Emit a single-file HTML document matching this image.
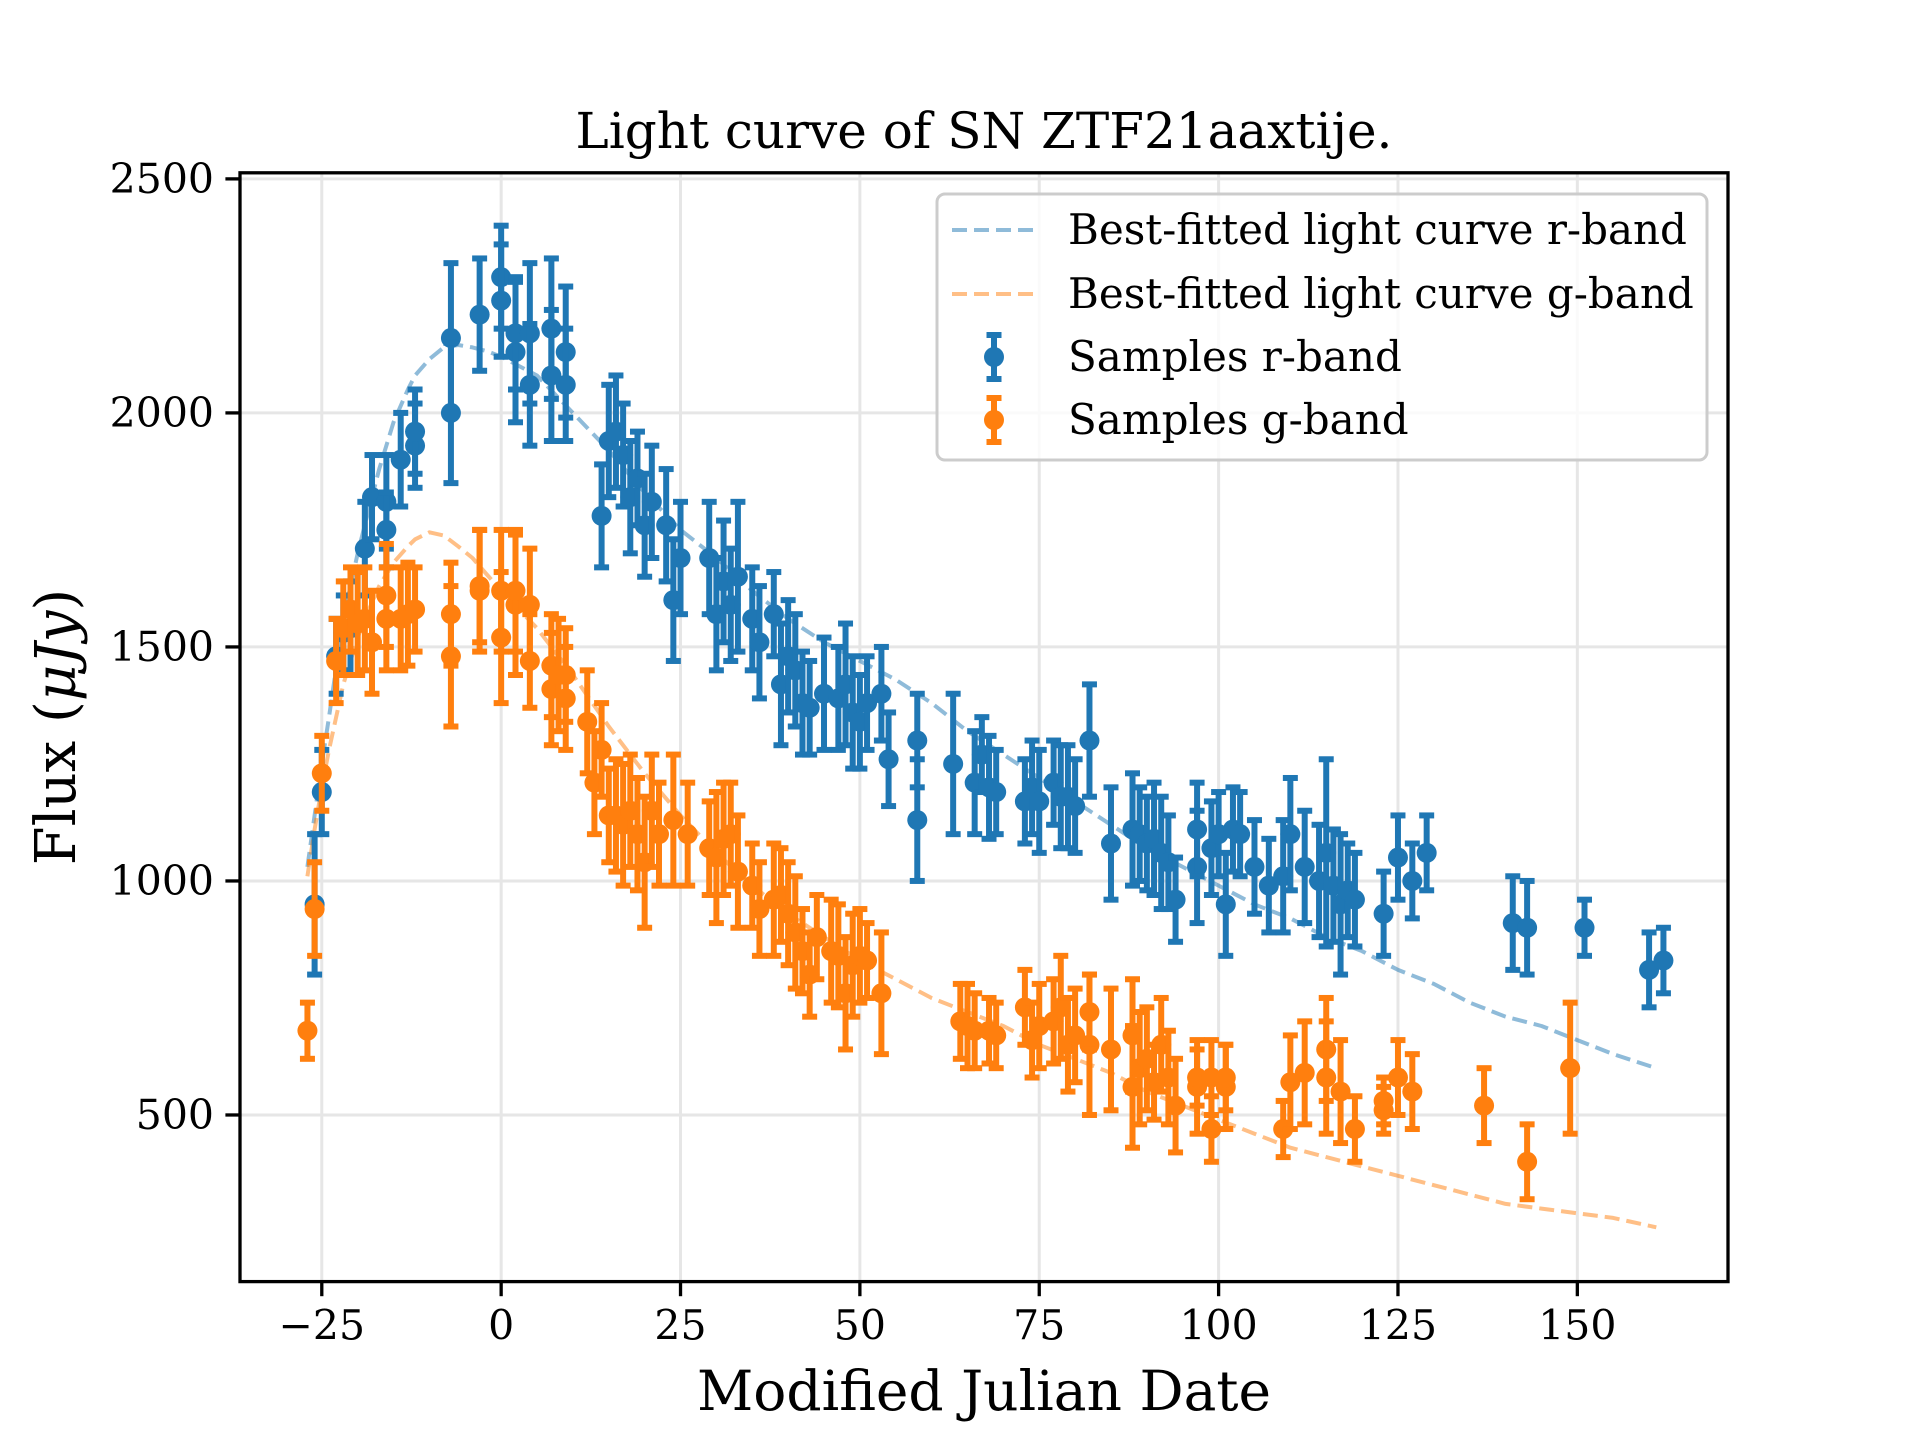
<!DOCTYPE html>
<html><head><meta charset="utf-8">
<style>
html,body{margin:0;padding:0;background:#fff;}
svg{display:block;font-family:"DejaVu Serif","Liberation Serif",serif;}
</style></head>
<body>
<svg id="chart" width="1920" height="1440" viewBox="0 0 1920 1440" xmlns="http://www.w3.org/2000/svg">
<rect width="1920" height="1440" fill="#fff"/>
<g id="grid"></g><g id="fits"></g><g id="pts"></g><g id="axes"></g><g id="legend"></g>
</svg>
<script>
const rX=[-26,-25,-23,-22,-21,-19,-18,-16,-16,-14,-12,-12,-7,-7,-3,0,0,2,2,4,4,7,7,9,9,14,15,16,17,18,19,20,21,23,24,25,29,30,31,32,33,35,36,38,39,40,41,42,43,45,47,48,49,50,51,53,54,58,58,63,66,67,68,69,73,74,75,77,78,79,80,82,85,88,89,90,91,92,93,94,97,97,99,100,101,102,103,105,107,109,110,112,114,115,116,117,118,119,123,125,127,129,141,143,151,160,162];
const rY=[950,1190,1480,1530,1540,1710,1820,1810,1750,1900,1930,1960,2160,2000,2210,2290,2240,2130,2170,2170,2060,2180,2080,2130,2060,1780,1940,1960,1910,1820,1860,1760,1810,1760,1600,1690,1690,1570,1640,1590,1650,1560,1510,1570,1420,1480,1450,1380,1370,1400,1390,1420,1360,1340,1380,1400,1260,1300,1130,1250,1210,1270,1200,1190,1170,1200,1170,1210,1180,1180,1160,1300,1080,1110,1100,1080,1090,1060,1040,960,1030,1110,1070,1100,950,1110,1100,1030,990,1010,1100,1030,1000,1060,990,950,980,960,930,1050,1000,1060,910,900,900,810,830];
const rE=[150,90,80,80,100,100,90,100,80,100,90,90,160,150,120,110,120,150,120,150,130,150,140,140,120,110,120,120,110,120,100,110,120,120,130,120,120,120,130,120,160,110,120,90,130,120,120,110,100,120,110,130,120,100,100,100,100,100,130,150,110,80,110,90,90,100,110,90,110,110,100,120,120,120,100,100,120,120,100,90,120,100,100,90,110,90,90,100,100,120,120,120,120,200,120,150,100,100,90,90,80,80,100,100,60,80,70];
const gX=[-27,-26,-25,-23,-22,-21,-20,-19,-18,-16,-16,-14,-13,-12,-7,-7,-3,-3,0,0,2,2,4,4,7,7,8,9,9,12,13,14,15,16,17,18,19,20,21,22,24,26,29,30,31,32,33,35,36,38,39,40,41,42,43,44,46,47,48,49,50,51,53,64,65,66,68,69,73,74,75,77,78,79,80,82,82,85,88,88,89,90,91,92,93,94,97,97,99,99,101,101,109,110,112,115,115,117,119,123,123,125,127,137,143,149];
const gY=[680,940,1230,1470,1540,1580,1550,1560,1510,1610,1560,1560,1570,1580,1570,1480,1620,1630,1520,1620,1590,1620,1590,1470,1460,1410,1440,1390,1440,1340,1210,1280,1140,1140,1120,1150,1100,1040,1150,1100,1130,1100,1070,1050,1090,1100,1020,990,940,960,970,930,890,850,800,880,850,840,760,820,840,830,760,700,690,680,680,670,730,660,690,700,730,650,670,650,720,640,560,670,600,620,570,650,580,520,560,580,470,580,560,580,470,570,590,640,580,550,470,510,530,580,550,520,400,600];
const gE=[60,100,80,90,100,90,110,110,110,110,110,110,110,90,110,150,130,120,140,130,150,130,120,100,110,120,120,110,100,110,110,100,100,120,130,120,120,140,120,110,140,110,100,140,120,110,120,90,100,120,100,110,120,90,90,90,110,110,120,110,100,80,130,80,90,80,70,70,80,80,90,90,110,100,100,150,80,130,130,120,120,110,80,100,100,100,100,60,70,80,90,70,60,100,110,110,120,110,70,50,50,80,80,80,80,140];
const fitX=[-27,-26,-25,-24,-22,-20,-19,-17,-15,-13,-12,-10,-8,-6,-4,-2,0,5,10,15,20,25,30,35,40,45,50,55,60,65,70,75,80,85,90,95,100,105,110,115,120,125,130,135,140,145,150,155,161];
const fitR=[1030,1140,1250,1350,1560,1700,1760,1880,1980,2050,2080,2115,2140,2145,2140,2132,2120,2080,2000,1920,1830,1750,1690,1620,1560,1510,1470,1430,1380,1320,1270,1220,1170,1120,1070,1030,990,950,920,880,850,810,780,740,710,690,660,630,600];
const fitG=[1010,1110,1200,1280,1420,1520,1560,1630,1680,1715,1730,1745,1738,1715,1690,1655,1620,1540,1440,1330,1230,1140,1060,990,930,880,830,790,750,720,690,650,620,590,550,520,490,460,430,410,390,370,350,330,310,300,290,280,260];
const xTicks=[-25,0,25,50,75,100,125,150];
const yTicks=[500,1000,1500,2000,2500];

const L=240,R=1728,T=172.8,B=1281.6,XMIN=-36.4,XMAX=171,YMIN=144,YMAX=2513;
const sx=v=>L+(v-XMIN)/(XMAX-XMIN)*(R-L);
const sy=v=>B-(v-YMIN)/(YMAX-YMIN)*(B-T);
const NS="http://www.w3.org/2000/svg";
function mk(tag,attrs,parent){const e=document.createElementNS(NS,tag);for(const k in attrs)e.setAttribute(k,attrs[k]);parent.appendChild(e);return e;}
const grid=document.getElementById('grid'),axes=document.getElementById('axes'),fits=document.getElementById('fits'),pts=document.getElementById('pts'),leg=document.getElementById('legend');

xTicks.forEach(t=>{
  const gl=mk('line',{x1:sx(t),x2:sx(t),y1:T,y2:B,stroke:'#e6e6e6','stroke-width':3},grid);
  
  
  const tk=mk('line',{x1:sx(t),x2:sx(t),y1:B,y2:B+14.6,stroke:'#000','stroke-width':3.3},axes);
  
  
  const tl=mk('text',{x:sx(t),y:B+58,'font-size':41,'text-anchor':'middle',fill:'#000'},axes);
  tl.textContent=(t<0?'\u2212'+(-t):t);
  
  
});
yTicks.forEach(t=>{
  const gl=mk('line',{x1:L,x2:R,y1:sy(t),y2:sy(t),stroke:'#e6e6e6','stroke-width':3},grid);
  
  
  const tk=mk('line',{x1:L-14.6,x2:L,y1:sy(t),y2:sy(t),stroke:'#000','stroke-width':3.3},axes);
  
  
  const tl=mk('text',{x:L-26,y:sy(t)+14,'font-size':41,'text-anchor':'end',fill:'#000'},axes);
  tl.textContent=t;
  
  
});

function fitPath(ys,color,name){
  const d=fitX.map((x,i)=>(i?'L':'M')+sx(x).toFixed(1)+','+sy(ys[i]).toFixed(1)).join(' ');
  const p=mk('path',{d:d,fill:'none',stroke:color,'stroke-width':4,'stroke-dasharray':'15,7','stroke-opacity':0.5,'stroke-linejoin':'round'},fits);
  
  
}
fitPath(fitR,'#1f77b4','fit-curve-r-band');
fitPath(fitG,'#ff7f0e','fit-curve-g-band');

function series(xs,ys,es,color,name){
  const g=mk('g',{},pts);
  
  
  xs.forEach((x,i)=>{
    const cx=sx(x),y1=sy(ys[i]+es[i]),y2=sy(ys[i]-es[i]);
    mk('line',{x1:cx,x2:cx,y1:y1,y2:y2,stroke:color,'stroke-width':6},g);
    mk('line',{x1:cx-7.5,x2:cx+7.5,y1:y1,y2:y1,stroke:color,'stroke-width':6},g);
    mk('line',{x1:cx-7.5,x2:cx+7.5,y1:y2,y2:y2,stroke:color,'stroke-width':6},g);
    const c=mk('circle',{cx:cx,cy:sy(ys[i]),r:10,fill:color},g);
    
    
  });
}
series(rX,rY,rE,'#1f77b4','samples-r-band');
series(gX,gY,gE,'#ff7f0e','samples-g-band');

const frame=mk('rect',{x:L,y:T,width:R-L,height:B-T,fill:'none',stroke:'#000','stroke-width':3.3},axes);



const title=mk('text',{x:(L+R)/2,y:148,'font-size':50,'text-anchor':'middle'},axes);
title.textContent='Light curve of SN ZTF21aaxtije.';


const xl=mk('text',{x:(L+R)/2,y:1410,'font-size':55,'text-anchor':'middle'},axes);
xl.textContent='Modified Julian Date';


const yl=mk('text',{x:0,y:0,'font-size':56,'text-anchor':'middle',transform:'translate(75,727) rotate(-90)'},axes);
yl.innerHTML='Flux (<tspan font-style="italic">\u03bcJy</tspan>)';



const box=mk('rect',{x:937,y:194,width:770,height:266,rx:8,fill:'#fff','fill-opacity':0.8,stroke:'#ccc','stroke-width':3},leg);


const entries=[['Best-fitted light curve r-band','#1f77b4','line',230],['Best-fitted light curve g-band','#ff7f0e','line',294],['Samples r-band','#1f77b4','pt',357],['Samples g-band','#ff7f0e','pt',420]];
entries.forEach(e=>{
  const g=mk('g',{},leg);
  
  
  if(e[2]==='line'){
    mk('line',{x1:952,x2:1036,y1:e[3],y2:e[3],stroke:e[1],'stroke-width':4,'stroke-dasharray':'15,7','stroke-opacity':0.5},g);
  } else {
    mk('line',{x1:994,x2:994,y1:e[3]-22,y2:e[3]+22,stroke:e[1],'stroke-width':6},g);
    mk('line',{x1:986.5,x2:1001.5,y1:e[3]-22,y2:e[3]-22,stroke:e[1],'stroke-width':6},g);
    mk('line',{x1:986.5,x2:1001.5,y1:e[3]+22,y2:e[3]+22,stroke:e[1],'stroke-width':6},g);
    mk('circle',{cx:994,cy:e[3],r:10,fill:e[1]},g);
  }
  const t=mk('text',{x:1068,y:e[3]+14,'font-size':42},g);
  t.textContent=e[0];
});
</script>
</body></html>
